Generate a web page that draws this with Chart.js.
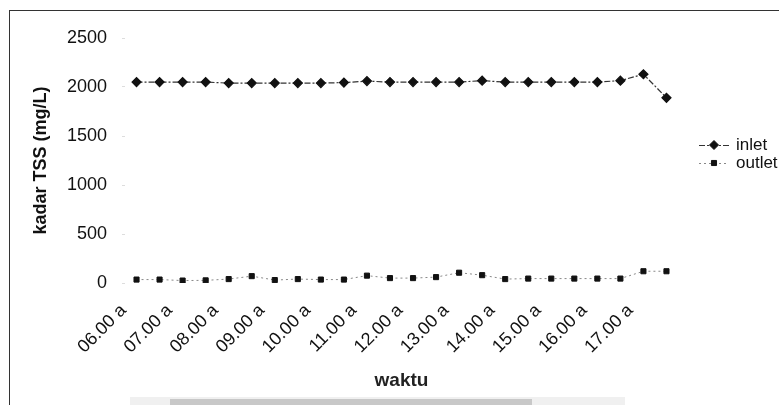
<!DOCTYPE html>
<html>
<head>
<meta charset="utf-8">
<script src="https://cdn.jsdelivr.net/npm/chart.js@4.4.1/dist/chart.umd.min.js"></script>
<style>
  html, body { margin: 0; padding: 0; background: #fff; }
  #wrap { position: relative; width: 779px; height: 405px; overflow: hidden; }
  #frame { position: absolute; left: 9px; top: 10px; width: 800px; height: 420px;
           border-left: 1px solid #333; border-top: 1px solid #333; }
  #scanA { position: absolute; left: 130px; top: 397px; width: 495px; height: 8px; background: #f0f0f0; }
  #scanB { position: absolute; left: 170px; top: 399px; width: 362px; height: 6px; background: #c8c8c8; }
  canvas { position: absolute; left: 0; top: 0; }
</style>
</head>
<body>
<div id="wrap">
  <div id="frame"></div>
  <div id="scanA"></div>
  <div id="scanB"></div>
  <canvas id="tssChart" width="779" height="405"></canvas>
</div>
<script>
  const FONT = '"Liberation Sans", Arial, sans-serif';

  // kategori waktu (label hanya tiap jam)
  const tickLabels = ['06.00 a','', '07.00 a','', '08.00 a','', '09.00 a','', '10.00 a','', '11.00 a','',
                      '12.00 a','', '13.00 a','', '14.00 a','', '15.00 a','', '16.00 a','', '17.00 a',''];
  const inlet  = [2050, 2050, 2050, 2050, 2040, 2040, 2040, 2040, 2040, 2045, 2060, 2050,
                  2050, 2050, 2050, 2065, 2050, 2050, 2050, 2050, 2050, 2065, 2130, 1890];
  const outlet = [35, 35, 25, 27, 40, 70, 30, 40, 35, 35, 75, 50,
                  50, 60, 105, 80, 40, 45, 45, 45, 45, 45, 120, 120];
  const yTicks = [0, 500, 1000, 1500, 2000, 2500];

  // legenda gaya Excel: garis + marker di tengah
  const excelLegend = {
    id: 'excelLegend',
    afterDraw(chart) {
      const ctx = chart.ctx;
      const rows = [{ ds: chart.data.datasets[0], y: 145 }, { ds: chart.data.datasets[1], y: 163 }];
      ctx.save();
      rows.forEach(r => {
        ctx.strokeStyle = r.ds.borderColor;
        ctx.lineWidth = 1;
        ctx.setLineDash(r.ds.borderDash);
        ctx.beginPath(); ctx.moveTo(699, r.y + 0.5); ctx.lineTo(729, r.y + 0.5); ctx.stroke();
        ctx.setLineDash([]);
        ctx.fillStyle = '#111'; ctx.strokeStyle = '#111';
        Chart.helpers.drawPoint(ctx, {
          pointStyle: r.ds.pointStyle, radius: r.ds.pointRadius, borderWidth: 1
        }, 714, r.y);
        ctx.font = '17px ' + FONT;
        ctx.textBaseline = 'middle';
        ctx.fillText(r.ds.label, 736, r.y);
      });
      ctx.restore();
    }
  };

  const ctx = document.getElementById('tssChart').getContext('2d');

  new Chart(ctx, {
    type: 'line',
    data: {
      labels: tickLabels,
      datasets: [
        { label: 'inlet', data: inlet, borderColor: '#333', borderWidth: 1.2, borderDash: [6, 2, 2, 2],
          pointStyle: 'rectRot', pointRadius: 4.5, pointBackgroundColor: '#111', pointBorderColor: '#111' },
        { label: 'outlet', data: outlet, borderColor: '#888', borderWidth: 1, borderDash: [2, 3],
          pointStyle: 'rect', pointRadius: 3.6, pointBackgroundColor: '#111', pointBorderColor: '#111' }
      ]
    },
    options: {
      responsive: false,
      animation: false,
      layout: { padding: { left: 0, top: 38, right: 101, bottom: 0 } },
      plugins: { legend: { display: false }, tooltip: { enabled: false } },
      elements: { line: { tension: 0 } },
      scales: {
        x: {
          offset: true,
          afterFit: s => { s.height = 122; },
          grid: { display: false },
          border: { display: false },
          ticks: {
            autoSkip: false, minRotation: 45, maxRotation: 45, labelOffset: -13, padding: 9,
            color: '#111', font: { family: FONT, size: 18 }
          },
          title: { display: true, text: 'waktu', color: '#222',
                   font: { family: FONT, size: 19, weight: 'bold' }, padding: { bottom: 13 } }
        },
        y: {
          min: 0, max: 2500,
          afterFit: s => { s.width = 125; },
          afterBuildTicks: s => { s.ticks = yTicks.map(v => ({ value: v })); },
          grid: { drawOnChartArea: false, tickLength: 3, color: '#ddd' },
          border: { display: false },
          ticks: { padding: 15, color: '#111', font: { family: FONT, size: 18 },
                   callback: v => String(v) },
          title: { display: true, text: 'kadar TSS (mg/L)', color: '#111',
                   font: { family: FONT, size: 18, weight: 'bold' }, padding: { top: 30 } }
        }
      }
    },
    plugins: [excelLegend]
  });
</script>
</body>
</html>
